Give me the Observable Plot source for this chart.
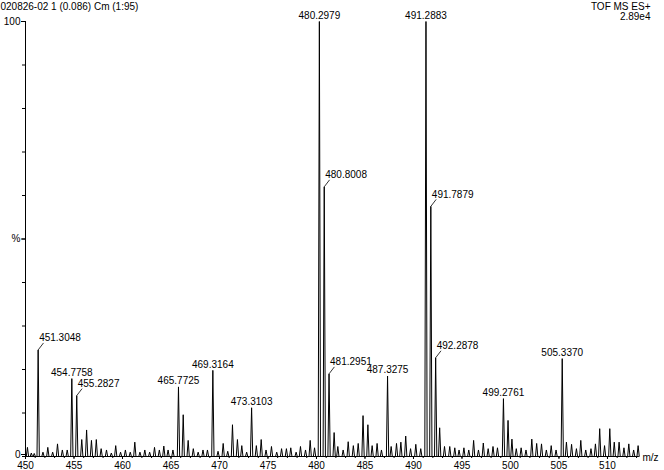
<!DOCTYPE html>
<html>
<head>
<meta charset="utf-8">
<script src="https://cdn.jsdelivr.net/npm/d3@7"></script>
<script src="https://cdn.jsdelivr.net/npm/@observablehq/plot@0.6"></script>
<style>
  html, body { margin: 0; padding: 0; background: #fff; }
  svg { display: block; }
</style>
</head>
<body>
<div id="chart"></div>
<script>
// ---- Data ----
const peakMz = [
  450.20, 450.60, 450.90, 451.3048, 451.80, 452.30, 452.80, 453.30, 453.80, 454.30,
  454.7758, 455.2827, 455.80, 456.30, 456.80, 457.30, 457.80, 458.35, 458.85, 459.30,
  459.80, 460.30, 460.80, 461.27, 461.80, 462.30, 462.80, 463.30, 463.80, 464.26,
  464.70, 465.20, 465.7725, 466.26, 466.77, 467.30, 467.80, 468.30, 468.76, 469.3164,
  469.85, 470.38, 470.85, 471.34, 471.85, 472.30, 472.80, 473.3103, 473.80, 474.30,
  474.80, 475.36, 475.90, 476.40, 476.90, 477.35, 477.90, 478.35, 478.87, 479.35,
  479.80, 480.2979, 480.8008, 481.2951, 481.82, 482.20, 482.75, 483.27, 483.80, 484.30,
  484.80, 485.30, 485.74, 486.25, 486.70, 487.3275, 487.70, 488.25, 488.70, 489.20,
  489.70, 490.24, 490.75, 491.2883, 491.7879, 492.2878, 492.70, 493.20, 493.74, 494.26,
  494.70, 495.20, 495.70, 496.20, 496.70, 497.20, 497.70, 498.20, 498.66, 499.2761,
  499.75, 500.15, 500.60, 501.10, 501.60, 502.20, 502.70, 503.20, 503.70, 504.20,
  504.70, 505.3370, 505.77, 506.30, 506.80, 507.25, 507.76, 508.30, 508.76, 509.20,
  509.70, 510.24, 510.70, 511.20, 511.70, 512.20, 512.70, 513.16
];
const peakIntensity = [
  2.1, 0.8, 0.7, 24.5, 1.0, 2.1, 1.0, 2.9, 1.5, 1.5,
  17.9, 14.0, 3.9, 6.1, 3.7, 3.9, 1.8, 1.5, 0.8, 2.5,
  1.0, 1.5, 1.0, 3.3, 1.0, 1.5, 1.0, 2.1, 1.5, 2.4,
  1.5, 1.5, 16.0, 9.6, 3.7, 1.8, 1.0, 1.5, 1.5, 19.8,
  1.2, 3.0, 1.2, 7.3, 3.9, 2.5, 1.0, 11.2, 2.5, 3.9,
  1.5, 2.3, 1.0, 1.8, 1.8, 2.0, 1.0, 2.3, 1.5, 3.7,
  2.0, 100, 62.0, 19.0, 5.5, 2.3, 1.5, 3.4, 2.5, 3.0,
  9.4, 7.3, 2.5, 3.0, 1.5, 18.5, 2.3, 3.0, 3.3, 4.7,
  1.8, 2.8, 1.8, 100, 57.5, 22.7, 6.6, 2.3, 2.3, 2.0,
  1.5, 2.0, 1.5, 3.7, 1.5, 3.1, 1.8, 2.3, 2.0, 13.3,
  8.3, 4.0, 1.8, 2.0, 1.5, 4.0, 3.0, 2.9, 1.5, 2.5,
  1.5, 22.5, 3.3, 2.8, 1.8, 3.7, 1.5, 1.8, 2.9, 6.4,
  2.5, 6.4, 3.3, 3.3, 2.0, 2.9, 1.5, 2.5
];

const labelMz = [451.3048, 454.7758, 455.2827, 465.7725, 469.3164, 473.3103, 480.2979,
                 480.8008, 481.2951, 487.3275, 491.2883, 491.7879, 492.2878, 499.2761, 505.3370];
const labelText = ["451.3048", "454.7758", "455.2827", "465.7725", "469.3164", "473.3103", "480.2979",
                   "480.8008", "481.2951", "487.3275", "491.2883", "491.7879", "492.2878", "499.2761", "505.3370"];
const labelConnected = [true, false, true, false, false, false, false,
                        true, true, false, false, true, true, false, false];

const xTickMajor = [450, 455, 460, 465, 470, 475, 480, 485, 490, 495, 500, 505, 510];
const xTickMinor = [450, 451, 452, 453, 454, 455, 456, 457, 458, 459, 460, 461, 462, 463, 464,
                    465, 466, 467, 468, 469, 470, 471, 472, 473, 474, 475, 476, 477, 478, 479,
                    480, 481, 482, 483, 484, 485, 486, 487, 488, 489, 490, 491, 492, 493, 494,
                    495, 496, 497, 498, 499, 500, 501, 502, 503, 504, 505, 506, 507, 508, 509,
                    510, 511, 512, 513];
const yTickMinor = [0, 10, 20, 30, 40, 50, 60, 70, 80, 90, 100];
const yTickMajor = [0, 50, 100];
const yTickText = ["0", "%", "100"];

const titleLeft = "020826-02 1 (0.086) Cm (1:95)";
const titleRight1 = "TOF MS ES+";
const titleRight2 = "2.89e4";
const xUnit = "m/z";

// ---- Build tables ----
const halfWidth = 0.12;
const peaks = peakMz.map((m, i) => ({mz: m, i: peakIntensity[i]})).sort((a, b) => a.mz - b.mz);
const profile = [{mz: 450, i: 0}];
for (const p of peaks) {
  profile.push({mz: p.mz - halfWidth, i: 0}, {mz: p.mz, i: p.i}, {mz: p.mz + halfWidth, i: 0});
}
profile.push({mz: 513.2, i: 0});

const labels = labelMz.map((m, k) => ({
  mz: m,
  i: peakIntensity[peakMz.indexOf(m)],
  t: labelText[k],
  conn: labelConnected[k]
}));
const plainLabels = labels.filter(d => !d.conn);
const connLabels = labels.filter(d => d.conn);

const chart = Plot.plot({
  width: 664,
  height: 470,
  marginLeft: 25,
  marginRight: 26,
  marginTop: 21,
  marginBottom: 14,
  style: {fontFamily: "'Liberation Sans', Arial, Helvetica, sans-serif", fontSize: "10px", color: "#000", background: "#fff"},
  x: {domain: [450, 513.2], label: null, axis: null},
  y: {domain: [0, 100], label: null, axis: null},
  marks: [
    Plot.axisX(xTickMinor, {tickSize: 2, tickFormat: () => "", label: null, stroke: "#000"}),
    Plot.axisX(xTickMajor, {tickSize: 3, tickPadding: 2, label: null, stroke: "#000", fill: "#000", fontSize: 10}),
    Plot.axisY(yTickMinor, {tickSize: 3, tickFormat: () => "", label: null, stroke: "#000"}),
    Plot.axisY([50, 100], {tickSize: 4, tickPadding: 1, label: null, stroke: "#000", fill: "#000", fontSize: 10,
      tickFormat: d => yTickText[yTickMajor.indexOf(d)]}),
    Plot.axisY([0], {tickSize: 4, tickPadding: 1, dy: -2, label: null, stroke: "#000", fill: "#000", fontSize: 10,
      tickFormat: d => yTickText[yTickMajor.indexOf(d)]}),
    Plot.ruleX([450], {y1: 0, y2: 100, stroke: "#000", strokeWidth: 1}),
    Plot.ruleY([0], {stroke: "#000", strokeWidth: 1}),
    Plot.line(profile, {x: "mz", y: "i", stroke: "#000", strokeWidth: 1, curve: "linear"}),
    Plot.link(connLabels, {x1: "mz", y1: "i", x2: d => d.mz + 0.55, y2: d => d.i + 1.6, stroke: "#000", strokeWidth: 0.8}),
    Plot.text(plainLabels, {x: "mz", y: "i", text: "t", dy: -6, textAnchor: "middle", lineAnchor: "middle", fill: "#000", fontSize: 10}),
    Plot.text(connLabels, {x: "mz", y: "i", text: "t", dx: 1, dy: -12, textAnchor: "start", lineAnchor: "middle", fill: "#000", fontSize: 10}),
    Plot.text([titleLeft], {text: d => d, frameAnchor: "top-left", dx: -25, dy: -15, textAnchor: "start", lineAnchor: "middle", fill: "#000", fontSize: 10}),
    Plot.text([titleRight1], {text: d => d, frameAnchor: "top-right", dx: 12, dy: -15, textAnchor: "end", lineAnchor: "middle", fill: "#000", fontSize: 10}),
    Plot.text([titleRight2], {text: d => d, frameAnchor: "top-right", dx: 12, dy: -5, textAnchor: "end", lineAnchor: "middle", fill: "#000", fontSize: 10}),
    Plot.text([xUnit], {text: d => d, frameAnchor: "bottom-right", dx: 4, dy: 1, textAnchor: "start", lineAnchor: "middle", fill: "#000", fontSize: 10})
  ]
});
document.getElementById("chart").appendChild(chart);
</script>
</body>
</html>
